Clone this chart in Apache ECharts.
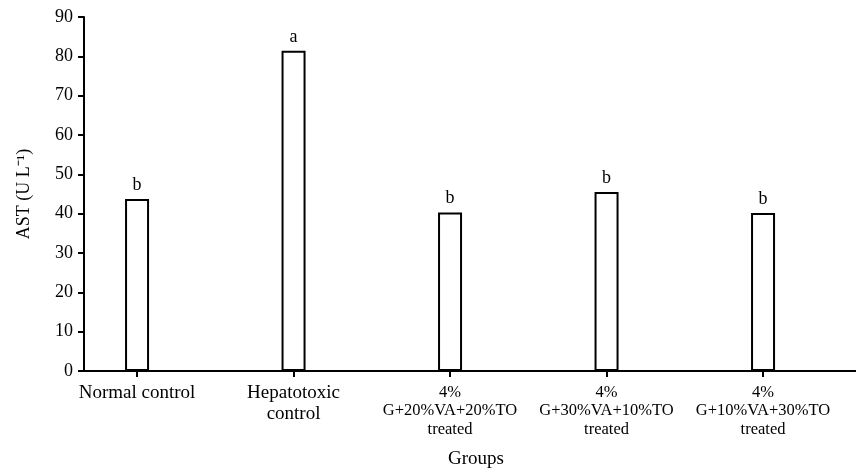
<!DOCTYPE html>
<html>
<head>
<meta charset="utf-8">
<script src="https://cdn.jsdelivr.net/npm/echarts@6/dist/echarts.min.js"></script>
<style>html,body{margin:0;padding:0;background:#fff}#c{width:856px;height:474px}</style>
</head>
<body>
<div id="c"></div>
<script>
var categories = ['Normal control', 'Hepatotoxic\ncontrol', '4%\nG+20%VA+20%TO\ntreated', '4%\nG+30%VA+10%TO\ntreated', '4%\nG+10%VA+30%TO\ntreated'];
var values = [43.7, 81.4, 40.3, 45.5, 40.2];
var letters = ['b', 'a', 'b', 'b', 'b'];
var yTicks = [0, 10, 20, 30, 40, 50, 60, 70, 80, 90];

var font = 'Liberation Serif, Times New Roman, serif';
var positions = categories.map(function (c, i) { return i; });
var chart = echarts.init(document.getElementById('c'));
chart.setOption({
  animation: false,
  textStyle: { fontFamily: font },
  grid: { left: 84, right: 0, top: 17, bottom: 101 },
  xAxis: {
    type: 'value',
    min: -0.339,
    max: 4.594,
    name: 'Groups',
    nameLocation: 'middle',
    nameGap: 79,
    nameTextStyle: { fontFamily: font, fontSize: 19, color: '#000', padding: [0, 0, 0, 12] },
    splitLine: { show: false },
    axisLine: { lineStyle: { color: '#000', width: 2 } },
    axisTick: { show: true, customValues: positions, length: 6, lineStyle: { color: '#000', width: 2 } },
    axisLabel: {
      customValues: positions,
      fontFamily: font, color: '#000', margin: 12,
      formatter: function (v) {
        var i = Math.round(v);
        var style = i < 2 ? 'big' : 'small';
        return categories[i].split('\n').map(function (s) { return '{' + style + '|' + s + '}'; }).join('\n');
      },
      rich: {
        big: { fontFamily: font, fontSize: 19, lineHeight: 21, color: '#000' },
        small: { fontFamily: font, fontSize: 16.5, lineHeight: 18.5, color: '#000' }
      }
    }
  },
  yAxis: {
    type: 'value',
    min: 0, max: 90, interval: 10,
    name: 'AST (U L\u207B\u00B9)',
    nameLocation: 'middle',
    nameGap: 51,
    nameTextStyle: { fontFamily: font, fontSize: 18, color: '#000' },
    splitLine: { show: false },
    axisLine: { show: true, onZero: false, lineStyle: { color: '#000', width: 2 } },
    axisTick: { show: true, length: 6, lineStyle: { color: '#000', width: 2 } },
    axisLabel: { fontFamily: font, fontSize: 18, color: '#000', margin: 11,
      formatter: function (v) { return yTicks.indexOf(v) >= 0 ? String(v) : ''; } }
  },
  series: [{
    type: 'bar',
    barWidth: 24,
    data: values.map(function (v, i) { return [i, v]; }),
    itemStyle: { color: '#fff', borderColor: '#000', borderWidth: 2 },
    label: {
      show: true, position: 'top', distance: 5,
      fontFamily: font, fontSize: 18, color: '#000',
      formatter: function (p) { return letters[p.dataIndex]; }
    }
  }]
});
</script>
</body>
</html>
